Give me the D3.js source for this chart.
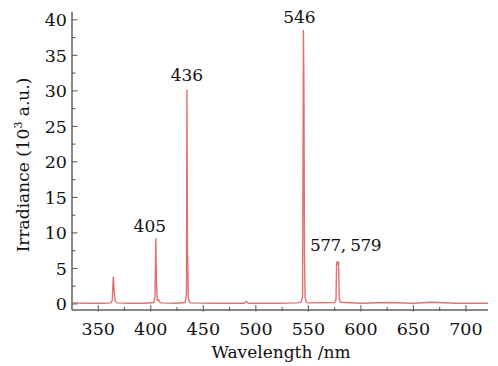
<!DOCTYPE html>
<html>
<head>
<meta charset="utf-8">
<script src="https://cdn.jsdelivr.net/npm/d3@7"></script>
<style>
  body { margin: 0; background: #fff; }
  svg text { font-family: "DejaVu Serif", serif; fill: #111; }
</style>
</head>
<body>
<svg id="chart" width="498" height="366"></svg>
<script>
// spectrum (wavelength nm, irradiance 10^3 a.u.)
const wavelengths = [
  325, 340, 355, 362, 363.3, 364.3, 365.1, 366, 367.5, 380, 395,
  402.8, 404, 404.8, 405.4, 406.2, 407.5, 408.3, 410, 425,
  432.8, 434, 434.4, 435, 435.7, 436.6, 438, 460, 489, 491, 493, 520, 540,
  543.2, 544.5, 545.3, 545.8, 546.3, 546.9, 547.8, 550,
  575, 576.3, 576.9, 577.4, 578.2, 578.8, 579.4, 580.5, 600, 625, 650, 668, 690, 721
];
const irradiance = [
  0.15, 0.1, 0.1, 0.15, 0.5, 3.75, 2.0, 0.4, 0.15, 0.1, 0.1,
  0.2, 1.0, 9.2, 3.0, 0.5, 0.6, 0.3, 0.15, 0.1,
  0.2, 1.5, 30.05, 7.0, 1.0, 0.3, 0.15, 0.1, 0.1, 0.35, 0.1, 0.1, 0.15,
  0.3, 1.0, 38.5, 30.0, 7.0, 1.0, 0.3, 0.15,
  0.2, 0.6, 5.7, 5.95, 5.6, 5.9, 0.7, 0.25, 0.1, 0.2, 0.1, 0.25, 0.1, 0.1
];

const peakLabels = ['405', '436', '546', '577, 579'];
const peakWavelengths = [404.8, 434.4, 545.3, 577.8];
const peakHeights = [9.2, 30.05, 38.5, 5.95];

const xTicks = [350, 400, 450, 500, 550, 600, 650, 700];
const yTicks = [0, 5, 10, 15, 20, 25, 30, 35, 40];

const svg = d3.select('#chart');

const x = d3.scaleLinear().domain([325, 721]).range([72, 488]);
const y = d3.scaleLinear().domain([-0.85, 41.1]).range([310, 12]);

const data = wavelengths.map((w, i) => ({ w, v: irradiance[i] }));

// spectrum
svg
  .append('path')
  .datum(data)
  .attr('fill', 'none')
  .attr('stroke', '#e46f6f')
  .attr('stroke-width', 1.4)
  .attr('stroke-linejoin', 'round')
  .attr(
    'd',
    d3
      .line()
      .x(d => x(d.w))
      .y(d => y(d.v))
  );

// x axis
const gx = svg.append('g').attr('transform', `translate(0,${y.range()[0]})`);
gx.append('line')
  .attr('x1', x.range()[0])
  .attr('x2', x.range()[1])
  .attr('stroke', '#888')
  .attr('stroke-width', 2);
gx.selectAll('line.minor')
  .data(d3.range(375, 721, 50))
  .join('line')
  .attr('class', 'minor')
  .attr('x1', d => x(d))
  .attr('x2', d => x(d))
  .attr('y1', 1)
  .attr('y2', -3)
  .attr('stroke', '#555');
gx.selectAll('line.major')
  .data(xTicks)
  .join('line')
  .attr('class', 'major')
  .attr('x1', d => x(d))
  .attr('x2', d => x(d))
  .attr('y1', 1.5)
  .attr('y2', -5)
  .attr('stroke', '#555');
gx.selectAll('text')
  .data(xTicks)
  .join('text')
  .attr('x', d => x(d))
  .attr('y', 25)
  .attr('text-anchor', 'middle')
  .attr('font-size', 17.5)
  .text(d => d);

// y axis
const gy = svg.append('g').attr('transform', `translate(${x.range()[0]},0)`);
gy.append('line')
  .attr('y1', y.range()[0])
  .attr('y2', y.range()[1])
  .attr('stroke', '#888')
  .attr('stroke-width', 2);
gy.selectAll('line.minor')
  .data(d3.range(2.5, 40, 5))
  .join('line')
  .attr('class', 'minor')
  .attr('y1', d => y(d))
  .attr('y2', d => y(d))
  .attr('x1', 0)
  .attr('x2', 3.5)
  .attr('stroke', '#555');
gy.selectAll('line.major')
  .data(yTicks)
  .join('line')
  .attr('class', 'major')
  .attr('y1', d => y(d))
  .attr('y2', d => y(d))
  .attr('x1', 0)
  .attr('x2', 5.5)
  .attr('stroke', '#555');
gy.selectAll('text')
  .data(yTicks)
  .join('text')
  .attr('x', -5)
  .attr('y', d => y(d))
  .attr('dy', '0.36em')
  .attr('text-anchor', 'end')
  .attr('font-size', 17.5)
  .text(d => d);

// axis titles
svg
  .append('text')
  .attr('x', 281)
  .attr('y', 358)
  .attr('text-anchor', 'middle')
  .attr('font-size', 17)
  .text('Wavelength /nm');

const yTitle = svg
  .append('text')
  .attr('transform', 'translate(29,165) rotate(-90)')
  .attr('text-anchor', 'middle')
  .attr('font-size', 17);
yTitle.append('tspan').text('Irradiance (10');
yTitle.append('tspan').attr('font-size', 11).attr('dy', -7).text('3');
yTitle.append('tspan').attr('dy', 7).text(' a.u.)');

// peak labels
const labelShift = [[-6, -6.5], [0, -9.3], [-4, -7.3], [8, -11]];
svg
  .selectAll('text.peak')
  .data(peakLabels)
  .join('text')
  .attr('class', 'peak')
  .attr('x', (d, i) => x(peakWavelengths[i]) + labelShift[i][0])
  .attr('y', (d, i) => y(peakHeights[i]) + labelShift[i][1])
  .attr('text-anchor', 'middle')
  .attr('font-size', 17)
  .attr('letter-spacing', (d, i) => (i === 3 ? -0.6 : 0))
  .text(d => d);
</script>
</body>
</html>
